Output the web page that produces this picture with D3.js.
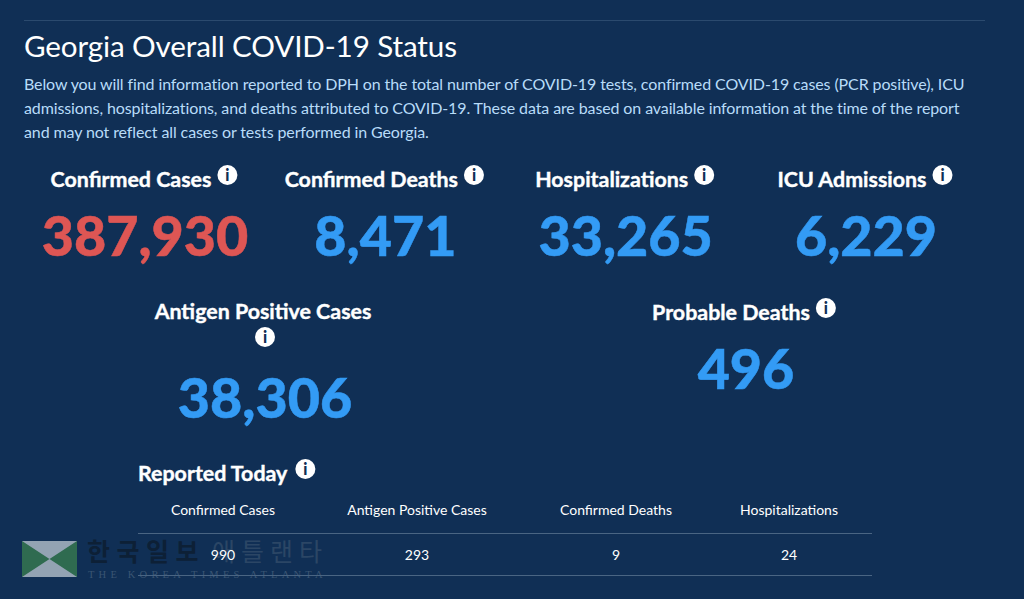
<!DOCTYPE html>
<html>
<head>
<meta charset="utf-8">
<script src="https://cdn.jsdelivr.net/npm/d3@7"></script>
<style>
  html, body { margin: 0; padding: 0; background: #102f55; overflow: hidden; }
  svg { display: block; font-family: Lato, sans-serif; }
</style>
</head>
<body>
<div id="chart"></div>
<script>
const width = 1024, height = 599;

const pageTitle = 'Georgia Overall COVID-19 Status';
const introLines = [
  'Below you will find information reported to DPH on the total number of COVID-19 tests, confirmed COVID-19 cases (PCR positive), ICU',
  'admissions, hospitalizations, and deaths attributed to COVID-19. These data are based on available information at the time of the report',
  'and may not reflect all cases or tests performed in Georgia.'
];

const topLabels = ['Confirmed Cases', 'Confirmed Deaths', 'Hospitalizations', 'ICU Admissions'];
const topValues = [387930, 8471, 33265, 6229];
const secondLabels = ['Antigen Positive Cases', 'Probable Deaths'];
const secondValues = [38306, 496];
const todayLabels = ['Confirmed Cases', 'Antigen Positive Cases', 'Confirmed Deaths', 'Hospitalizations'];
const todayValues = [990, 293, 9, 24];

const BLUE = '#339bf5', RED = '#de5654', WHITE = '#ffffff';

const svg = d3.select('#chart').append('svg')
  .attr('width', width)
  .attr('height', height);

svg.append('rect')
  .attr('width', width)
  .attr('height', height)
  .attr('fill', '#102f55');

// 윗줄 구분선
svg.append('line')
  .attr('x1', 24).attr('x2', 985)
  .attr('y1', 20.5).attr('y2', 20.5)
  .attr('stroke', '#2b4a6e');

svg.append('text')
  .attr('x', 24).attr('y', 57)
  .attr('fill', WHITE)
  .attr('font-size', 29.6)
  .attr('letter-spacing', -0.12)
  .text(pageTitle);

svg.append('g').selectAll('text')
  .data(introLines)
  .enter().append('text')
  .attr('x', 24)
  .attr('y', (d, i) => 90 + i * 24)
  .attr('fill', '#b8dcf9')
  .attr('font-size', 16)
  .attr('letter-spacing', -0.11)
  .text(d => d);

const fmt = d3.format(',');

const topX = d3.scalePoint().domain(topLabels).range([145, 866]);
const secondX = d3.scalePoint().domain(secondLabels).range([265, 746]);
const todayX = d3.scaleOrdinal().domain(todayLabels).range([223, 417, 616, 789]);

function infoIcon(g, cx, cy) {
  g.append('circle')
    .attr('cx', cx).attr('cy', cy).attr('r', 10)
    .attr('fill', WHITE);
  g.append('text')
    .attr('x', cx).attr('y', cy + 5.5)
    .attr('text-anchor', 'middle')
    .attr('fill', '#102f55')
    .attr('font-size', 16)
    .attr('font-weight', 900)
    .text('i');
}

function boldLabel(g, label, x, y, anchor) {
  return g.append('text')
    .attr('x', x).attr('y', y)
    .attr('text-anchor', anchor)
    .attr('fill', WHITE)
    .attr('stroke', WHITE)
    .attr('stroke-width', 0.4)
    .attr('font-size', 21.4)
    .attr('font-weight', 700)
    .text(label);
}

// 라벨 + 아이콘을 가운데 정렬
function labelWithIcon(g, label, cx, y) {
  const shift = 14;
  const t = boldLabel(g, label, cx - shift, y, 'middle');
  const w = t.node().getComputedTextLength();
  infoIcon(g, cx - shift + w / 2 + 16, y - 12);
}

function bigNumber(g, value, cx, y, color) {
  g.append('text')
    .attr('x', cx).attr('y', y)
    .attr('text-anchor', 'middle')
    .attr('fill', color)
    .attr('stroke', color)
    .attr('stroke-width', 0.5)
    .attr('font-size', 55.6)
    .attr('font-weight', 900)
    .text(fmt(value));
}

const topRow = svg.append('g');
topLabels.forEach((label, i) => {
  labelWithIcon(topRow, label, topX(label), 187);
  bigNumber(topRow, topValues[i], topX(label), 256, i === 0 ? RED : BLUE);
});

// Antigen: 아이콘이 다음 줄로 내려감
const second = svg.append('g');
const antigen = secondLabels[0], probable = secondLabels[1];
boldLabel(second, antigen, secondX(antigen) - 2, 319, 'middle');
infoIcon(second, secondX(antigen), 337);
bigNumber(second, secondValues[0], secondX(antigen), 418, BLUE);

labelWithIcon(second, probable, secondX(probable) - 1, 320);
bigNumber(second, secondValues[1], secondX(probable), 389, BLUE);

// Reported Today 표
const today = svg.append('g');
const todayTitle = boldLabel(today, 'Reported Today', 138, 481, 'start');
infoIcon(today, 138 + todayTitle.node().getComputedTextLength() + 18, 469);

today.selectAll('.head')
  .data(todayLabels)
  .enter().append('text')
  .attr('class', 'head')
  .attr('x', d => todayX(d))
  .attr('y', 515)
  .attr('text-anchor', 'middle')
  .attr('fill', WHITE)
  .attr('font-size', 14)
  .text(d => d);

today.selectAll('line')
  .data([533.5, 575.5])
  .enter().append('line')
  .attr('x1', 138).attr('x2', 872)
  .attr('y1', d => d).attr('y2', d => d)
  .attr('stroke', '#4a6583');

today.selectAll('.val')
  .data(todayValues)
  .enter().append('text')
  .attr('class', 'val')
  .attr('x', (d, i) => todayX(todayLabels[i]))
  .attr('y', 560)
  .attr('text-anchor', 'middle')
  .attr('fill', WHITE)
  .attr('font-size', 14)
  .text(d => d);

// 워터마크
const mark = svg.append('g');
mark.append('rect')
  .attr('x', 22).attr('y', 541).attr('width', 55).attr('height', 36)
  .attr('fill', '#2f6b50');
mark.append('path')
  .attr('d', 'M22,541H77L49.5,559Z M22,577H77L49.5,559Z')
  .attr('fill', '#93a3b3');
mark.append('text')
  .attr('x', 87).attr('y', 561)
  .attr('font-family', '"Noto Sans CJK KR"')
  .attr('font-size', 25)
  .attr('font-weight', 700)
  .attr('letter-spacing', 6.5)
  .attr('fill', '#0d2036')
  .text('한국일보');
mark.append('text')
  .attr('x', 212).attr('y', 561)
  .attr('font-family', '"Noto Sans CJK KR"')
  .attr('font-size', 25)
  .attr('letter-spacing', 6)
  .attr('fill', '#2b4665')
  .text('애틀랜타');
mark.append('text')
  .attr('x', 88).attr('y', 578)
  .attr('font-family', '"Liberation Serif"')
  .attr('font-size', 10.5)
  .attr('letter-spacing', 4.2)
  .attr('fill', '#3a5573')
  .text('THE KOREA TIMES ATLANTA');

// 워터마크 위로 올라오는 값
today.raise();
</script>
</body>
</html>
